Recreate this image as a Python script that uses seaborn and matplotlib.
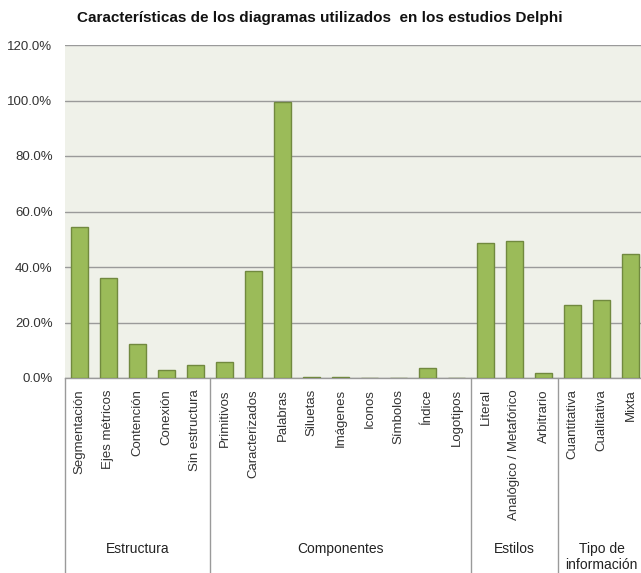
import matplotlib
matplotlib.use("Agg")
import matplotlib.pyplot as plt
import matplotlib.transforms as mtransforms
import seaborn as sns
import pandas as pd
from matplotlib.ticker import FuncFormatter

categories = ["Segmentación", "Ejes métricos", "Contención", "Conexión", "Sin estructura",
              "Primitivos", "Caracterizados", "Palabras", "Siluetas", "Imágenes",
              "Iconos", "Símbolos", "Índice", "Logotipos",
              "Literal", "Analógico / Metafórico", "Arbitrario",
              "Cuantitativa", "Cualitativa", "Mixta"]
values = [54.3, 35.9, 12.1, 2.8, 4.6,
          5.9, 38.7, 99.5, 0.3, 0.3,
          0.0, 0.0, 3.5, 0.0,
          48.6, 49.4, 1.7,
          26.2, 28.0, 44.7]
groups = ["Estructura", "Componentes", "Estilos", "Tipo de\ninformación"]
group_sizes = [5, 9, 3, 3]
yticks = [0, 20, 40, 60, 80, 100, 120]

sns.set_theme(style="white")
plt.rcParams['font.family'] = ['Liberation Sans', 'DejaVu Sans']

W, H = 641, 573
fig = plt.figure(figsize=(W / 100, H / 100), dpi=100)
left_px, right_px, top_px, bot_px = 65, 645, 45, 378
ax = fig.add_axes([left_px / W, 1 - bot_px / H, (right_px - left_px) / W, (bot_px - top_px) / H])
ax.set_facecolor("#eff1e9")

df = pd.DataFrame({"cat": categories, "val": values})
sns.barplot(data=df, x="cat", y="val", ax=ax, color="#9bbb59", saturation=1,
            width=0.59, edgecolor="#71893f", linewidth=1.0, zorder=3)

ax.set_xlim(-0.5, len(categories) - 0.5)
ax.set_ylim(0, 120)
ax.set_yticks(yticks)
ax.yaxis.set_major_formatter(FuncFormatter(lambda v, p: f"{v:.1f}%"))
ax.grid(axis="y", color="#9a9a9a", linewidth=1.0, zorder=0)
ax.set_axisbelow(True)
for s in ["top", "right", "left"]:
    ax.spines[s].set_visible(False)
ax.spines["bottom"].set_color("#9a9a9a")
ax.spines["bottom"].set_linewidth(1.0)

ax.tick_params(axis="y", length=0, pad=9, labelsize=9.5, labelcolor="#333333")
ax.tick_params(axis="x", length=0, pad=8, labelsize=9.5, labelcolor="#333333")
ax.set_xticks(range(len(categories)))
ax.set_xticklabels(categories, rotation=90, va="top", ha="center")
ax.set_xlabel("")
ax.set_ylabel("")

trans = mtransforms.blended_transform_factory(ax.transData, ax.transAxes)
line_bottom = -(H - bot_px) / (bot_px - top_px)
start = 0
bounds = [-0.5]
for g, n in zip(groups, group_sizes):
    end = start + n
    bounds.append(end - 0.5)
    center = (start + end - 1) / 2
    yc = -(557 - bot_px) / (bot_px - top_px) if "\n" in g else -(549 - bot_px) / (bot_px - top_px)
    ax.text(center, yc, g, transform=trans, ha="center", va="center",
            fontsize=10, color="#222222", linespacing=1.15)
    start = end
for b in bounds[:-1]:
    ax.plot([b, b], [0, line_bottom], transform=trans, color="#9a9a9a",
            linewidth=1.0, clip_on=False)

fig.text(0.5 * (80 + 560) / W, 1 - 18 / H, "Características de los diagramas utilizados  en los estudios Delphi",
         ha="center", va="center", fontsize=11, fontweight="bold", color="#111111")

fig.savefig("out.png", dpi=100)
